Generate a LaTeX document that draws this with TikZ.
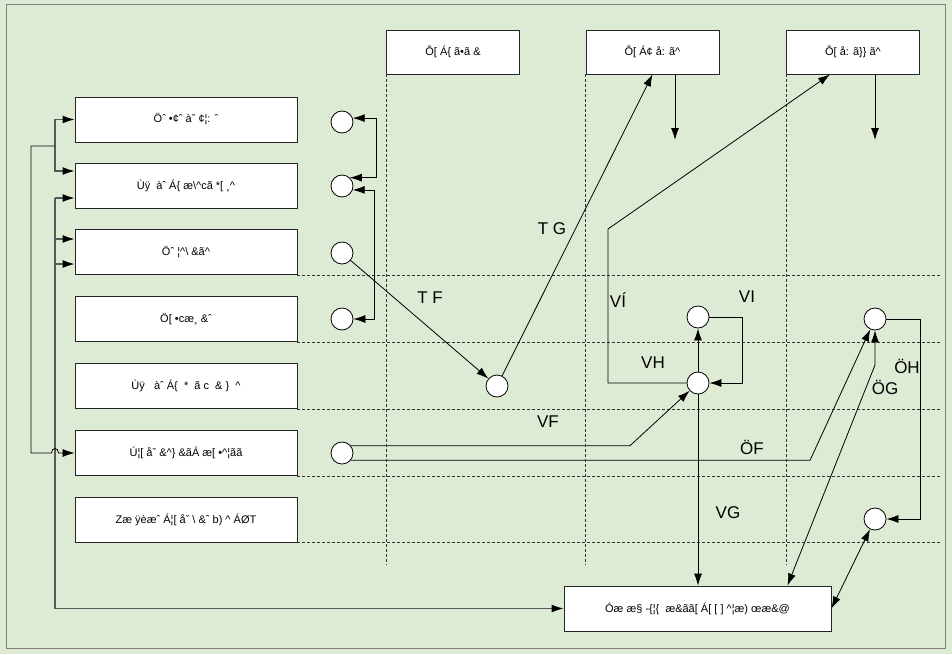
\documentclass[tikz,border=0pt]{standalone}
\usepackage{fontspec}
\setmainfont{Liberation Sans}
\usetikzlibrary{arrows.meta,calc}
\definecolor{bg}{RGB}{221,235,212}
\newcommand{\crt}{\textasciicircum}
\begin{document}
\begin{tikzpicture}[x=1pt,y=-1pt,
  >={Latex[length=12pt,width=8pt]},
  box/.style={draw=black!85,fill=white,line width=0.9pt,minimum width=222pt,minimum height=45pt,inner sep=0pt,font=\fontsize{11}{13}\selectfont},
  tbox/.style={box,minimum width=133pt,minimum height=44pt},
  bbox/.style={box,minimum width=267pt,minimum height=45pt},
  circ/.style={circle,draw,fill=white,minimum size=22pt,inner sep=0pt,line width=0.8pt},
  conn/.style={line width=0.8pt},
  bus/.style={line width=1.2pt,draw=black!65,-{Latex[length=12pt,width=8pt,color=black]}},
  dsh/.style={dash pattern=on 3pt off 2pt,line width=0.7pt,draw=black!80},
  lbl/.style={font=\fontsize{17}{19}\selectfont,inner sep=0pt}]
\fill[bg] (0,0) rectangle (952,654);
\draw[gray,line width=1pt] (6,4.5) rectangle (945,648);
\useasboundingbox (0,0) rectangle (952,654);
% left boxes
\node[box] (l1) at (186,119.5) {Öˆ •¢ˆ àˇ ¢¦: ˆ};
\node[box] (l2) at (186,185.5) {Ùÿ\ \ àˆ Á\{ æ\textbackslash\crt cã *[ ¸\crt};
\node[box] (l3) at (186,252) {Öˆ ¦\crt\textbackslash\ \&ã\crt};
\node[box] (l4) at (186,319) {Ö[ •cæ¸ \&ˆ};
\node[box] (l5) at (186,386) {Ùÿ\ \ \ àˆ Á\{ \ * \ ã c \ \& \} \ \crt};
\node[box] (l6) at (186,453) {Ú¦[ åˇ \&\crt\} \&ãÁ æ[ •\crt¦ãã};
\node[box] (l7) at (186,519.5) {Zæ ÿèæˆ Á¦[ åˇ \textbackslash\ \&ˆ b) \crt\ ÁØT};
% top boxes
\node[tbox] (tb1) at (453,52) {Ô[ Á\{ ã•ã \&};
\node[tbox] (tb2) at (652.5,52) {Ô[ Á¢ å: ã\crt};
\node[tbox] (tb3) at (853,52) {Ô[ å: ã\}\} ã\crt};
% bottom box
\node[bbox] (bb) at (697.5,608.5) {Óæ æ§ -\{¦\{ \ æ\&ãã[ Á[ [ ] \crt¦æ) œæ\&@};
% dashed grid
\coordinate (rx) at (942,0);
\coordinate (by) at (0,565);
\foreach \b in {l3,l4,l5,l6,l7} \draw[dsh] (\b.south east) -- (\b.south east -| rx);
\foreach \t in {tb1,tb2,tb3} \draw[dsh] (\t.south west) -- (\t.south west |- by);
% circles
\node[circ] (c1) at (342,122) {};
\node[circ] (c2) at (342,186) {};
\node[circ] (c3) at (342,253) {};
\node[circ] (c4) at (342,319) {};
\node[circ] (c5) at (497,386) {};
\node[circ] (c6) at (342,453) {};
\node[circ] (cVI) at (698,317) {};
\node[circ] (cVH) at (698,383) {};
\node[circ] (cR1) at (875,319) {};
\node[circ] (cR2) at (875,519) {};
% brackets at left circles
\coordinate (bA) at (376,0);
\coordinate (bB) at (374,0);
\draw[conn,<->] (c1.20) -- (c1.20 -| bA) |- (c2.47);
\draw[conn,<->] (c2.-20) -- (c2.-20 -| bB) |- (c4.east);
% TF, TG
\draw[conn,->] (c3) -- (c5);
\draw[conn,->] (c5) -- (tb2.south);
% VI' path
\coordinate (v1) at (608,229);
\draw[conn,->] (cVH.west) -| (v1) -- ($(tb3.south)+(-23,0)$);
% down arrows under top boxes
\coordinate (d2) at (675,140);
\coordinate (d3) at (875,140);
\draw[conn,->] (tb2.south -| d2) -- (d2);
\draw[conn,->] (tb3.south -| d3) -- (d3);
% VH, VI loop
\draw[conn,->] (cVH) -- (cVI);
\coordinate (lp) at (742,383);
\draw[conn,->] (cVI.east) -| (lp) -- (cVH.east);
% VF, OF
\coordinate (k1) at (630,0);
\coordinate (k2) at (810,0);
\draw[conn,->] (c6.40) -- (c6.40 -| k1) -- (cVH);
\draw[conn,->] (c6.-40) -- (c6.-40 -| k2) -- (cR1);
% VG
\draw[conn,->] (cVH) -- (cVH |- bb.north);
% OG
\coordinate (g2) at (875,365);
\draw[conn,<->] ($(bb.north east)+(-44,0)$) -- (g2) -- (cR1);
% OH
\coordinate (h1) at (920,0);
\draw[conn,->] (cR1.east) -| (h1 |- cR2) -- (cR2.east);
\draw[conn,<->] (cR2) -- (bb.east);
% left buses
\coordinate (ia) at (55,146);
\coordinate (oa) at (31,146);
\coordinate (ib) at (55,198);
\coordinate (ibz) at (55,608.5);
\draw[bus] (ia) |- (l1.west);
\draw[bus] (ia) |- ($(l2.west)+(0,-14.5)$);
\draw[bus] (ib) -- (ibz) -- (bb.west);
\draw[bus] (ib) -- (ib -| l2.west);
\draw[bus] ($(l3.west -| ib)+(0,-13)$) -- ($(l3.west)+(0,-13)$);
\draw[bus] ($(l3.west -| ib)+(0,12)$) -- ($(l3.west)+(0,12)$);
\coordinate (jL) at ($(l6.west -| ib)+(-3.5,0)$);
\coordinate (jR) at ($(l6.west -| ib)+(3.5,0)$);
\draw[conn,->] (ia) -- (oa) |- (jL) .. controls ($(jL)+(0,-6)$) and ($(jR)+(0,-6)$) .. (jR) -- (l6.west);
% labels
\node[lbl] (tf) at (430,298) {T F};
\node[lbl] (tg) at (552,229) {T G};
\node[lbl] (vi1) at (618,300) {VÍ};
\node[lbl] (vi) at (747,297) {VI};
\node[lbl] (vh) at (653,363) {VH};
\node[lbl] (vf) at (548,422) {VF};
\node[lbl] (vg) at (728,513) {VG};
\node[lbl] (of) at (752,447) {ÖF};
\node[lbl] (og) at (885,387) {ÖG};
\node[lbl] (oh) at (907,366) {ÖH};
\end{tikzpicture}
\end{document}
